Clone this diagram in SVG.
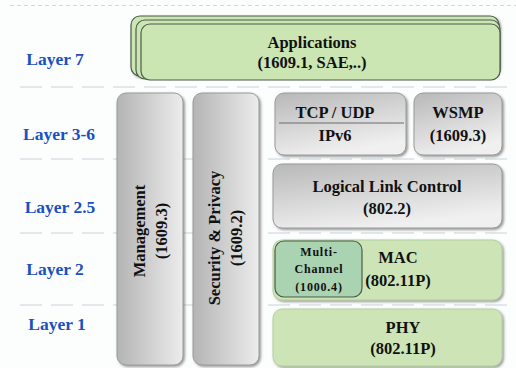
<svg xmlns="http://www.w3.org/2000/svg" width="516" height="368" viewBox="0 0 516 368">
<style>
.lay{font-family:"Liberation Serif",serif;font-weight:bold;font-size:17.5px;fill:#1a50c0;text-anchor:middle}
.t{font-family:"Liberation Serif",serif;font-weight:bold;font-size:16.5px;fill:#111;text-anchor:middle}
.s{font-family:"Liberation Serif",serif;font-weight:bold;font-size:12px;fill:#111;text-anchor:middle;letter-spacing:0.8px}
.sep{stroke:#c9d2da;stroke-width:1;stroke-dasharray:22 9;fill:none}
.gray{fill:url(#gh);stroke:#9a9a9a;stroke-width:1;filter:url(#sh)}
.grayv{fill:url(#gv);stroke:#9a9a9a;stroke-width:1;filter:url(#sh)}
.green{fill:#cde5b6;stroke:#b5cfa0;stroke-width:1;filter:url(#sh)}
.app{fill:#cbe5b3;stroke:#4d5d4a;stroke-width:1.2}
</style>
<defs>
<linearGradient id="gh" x1="0" y1="0" x2="1" y2="0">
<stop offset="0" stop-color="#b4b4b4"/><stop offset="1" stop-color="#ececec"/>
</linearGradient>
<linearGradient id="gv" x1="0" y1="0" x2="0.4" y2="1">
<stop offset="0" stop-color="#b8b8b8"/><stop offset="1" stop-color="#f0f0f0"/>
</linearGradient>
<filter id="sh" x="-10%" y="-10%" width="125%" height="125%">
<feDropShadow dx="1.5" dy="1.5" stdDeviation="1" flood-color="#555" flood-opacity="0.6"/>
</filter>
</defs>
<rect width="516" height="368" fill="#fcfdfd"/>
<g id="connectors">
<line x1="10" y1="5.5" x2="516" y2="5.5" stroke="#d0d6dc" stroke-dasharray="4 3"/>
<line class="sep" x1="20" y1="87" x2="516" y2="87"/>
<line class="sep" x1="20" y1="159" x2="516" y2="159"/>
<line class="sep" x1="20" y1="233" x2="516" y2="233"/>
<line class="sep" x1="20" y1="305" x2="516" y2="305"/>
</g>
<g id="labels">
<text class="lay" x="55" y="65">Layer 7</text>
<text class="lay" x="59" y="140">Layer 3-6</text>
<text class="lay" x="60" y="213">Layer 2.5</text>
<text class="lay" x="55" y="275">Layer 2</text>
<text class="lay" x="57" y="330">Layer 1</text>
</g>
<g id="applications">
<rect class="app" x="131" y="16" width="368" height="60" rx="9" filter="url(#sh)"/>
<rect class="app" x="136" y="20" width="364" height="59" rx="9"/>
<rect class="app" x="141" y="24" width="359" height="56" rx="9"/>
<text class="t" x="312" y="48">Applications</text>
<text class="t" x="312" y="68">(1609.1, SAE,..)</text>
</g>
<g id="management">
<rect class="gray" x="117" y="93" width="66" height="272" rx="9"/>
<text class="t" transform="translate(145,231) rotate(-90)">Management</text>
<text class="t" transform="translate(167,231) rotate(-90)">(1609.3)</text>
</g>
<g id="security">
<rect class="gray" x="193" y="93" width="66" height="272" rx="9"/>
<text class="t" transform="translate(220,238) rotate(-90)">Security &amp; Privacy</text>
<text class="t" transform="translate(242,238) rotate(-90)">(1609.2)</text>
</g>
<g id="tcpip">
<rect class="grayv" x="275" y="93" width="131" height="62" rx="9"/>
<line x1="279" y1="123" x2="404" y2="123" stroke="#6a6a6a" stroke-width="1"/>
<text class="t" x="335" y="118">TCP / UDP</text>
<text class="t" x="335" y="141">IPv6</text>
</g>
<g id="wsmp">
<rect class="grayv" x="414" y="93" width="88" height="62" rx="9"/>
<text class="t" x="458" y="118">WSMP</text>
<text class="t" x="458" y="141">(1609.3)</text>
</g>
<g id="llc">
<rect class="grayv" x="273" y="164" width="229" height="64" rx="9"/>
<text class="t" x="387" y="192">Logical Link Control</text>
<text class="t" x="387" y="214">(802.2)</text>
</g>
<g id="mac">
<rect class="green" x="273" y="240" width="229" height="60" rx="9"/>
<text class="t" x="398" y="263">MAC</text>
<text class="t" x="398" y="286">(802.11P)</text>
</g>
<g id="multichannel">
<rect x="275" y="241" width="87" height="56" rx="9" fill="#a9d3b1" stroke="#4d5d4a" stroke-width="1.2"/>
<text class="s" x="319" y="256">Multi-</text>
<text class="s" x="319" y="273">Channel</text>
<text class="s" x="319" y="291">(1000.4)</text>
</g>
<g id="phy">
<rect class="green" x="273" y="309" width="229" height="57" rx="9"/>
<text class="t" x="403" y="333">PHY</text>
<text class="t" x="403" y="354">(802.11P)</text>
</g>
</svg>
